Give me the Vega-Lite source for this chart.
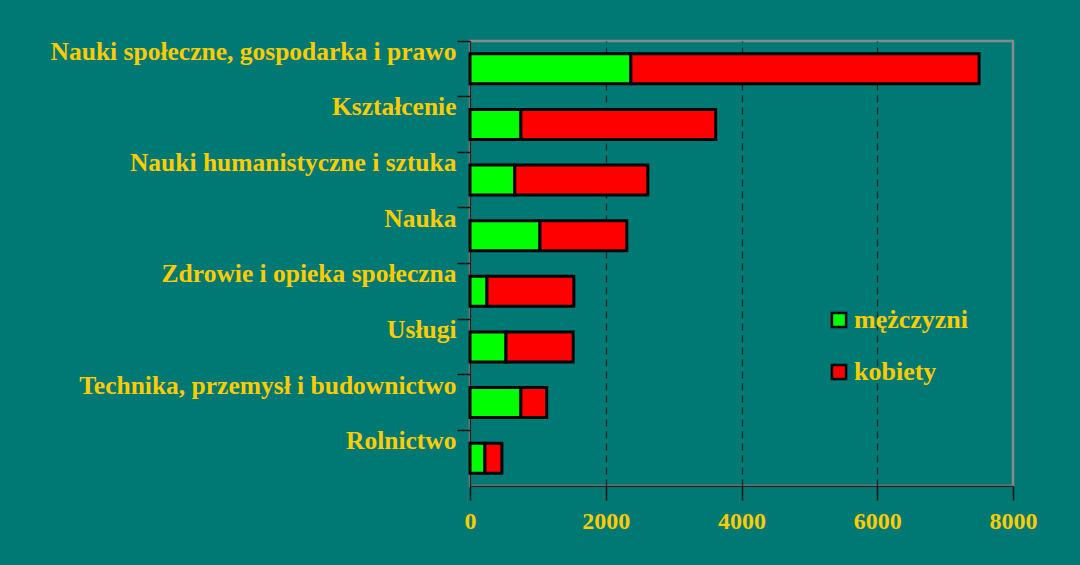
{
  "$schema": "https://vega.github.io/schema/vega-lite/v6.json",
  "width": 543,
  "height": 445,
  "autosize": {"type": "none"},
  "padding": {"left": 470, "top": 41, "right": 67, "bottom": 79},
  "background": "#007874",
  "data": {"values": [
    {"dziedzina": "Nauki społeczne, gospodarka i prawo", "plec": "mężczyzni", "ord": 1, "liczba": 2370},
    {"dziedzina": "Nauki społeczne, gospodarka i prawo", "plec": "kobiety", "ord": 2, "liczba": 5130},
    {"dziedzina": "Kształcenie", "plec": "mężczyzni", "ord": 1, "liczba": 750},
    {"dziedzina": "Kształcenie", "plec": "kobiety", "ord": 2, "liczba": 2870},
    {"dziedzina": "Nauki humanistyczne i sztuka", "plec": "mężczyzni", "ord": 1, "liczba": 660},
    {"dziedzina": "Nauki humanistyczne i sztuka", "plec": "kobiety", "ord": 2, "liczba": 1960},
    {"dziedzina": "Nauka", "plec": "mężczyzni", "ord": 1, "liczba": 1030},
    {"dziedzina": "Nauka", "plec": "kobiety", "ord": 2, "liczba": 1280},
    {"dziedzina": "Zdrowie i opieka społeczna", "plec": "mężczyzni", "ord": 1, "liczba": 250},
    {"dziedzina": "Zdrowie i opieka społeczna", "plec": "kobiety", "ord": 2, "liczba": 1280},
    {"dziedzina": "Usługi", "plec": "mężczyzni", "ord": 1, "liczba": 530},
    {"dziedzina": "Usługi", "plec": "kobiety", "ord": 2, "liczba": 990},
    {"dziedzina": "Technika, przemysł i budownictwo", "plec": "mężczyzni", "ord": 1, "liczba": 750},
    {"dziedzina": "Technika, przemysł i budownictwo", "plec": "kobiety", "ord": 2, "liczba": 380},
    {"dziedzina": "Rolnictwo", "plec": "mężczyzni", "ord": 1, "liczba": 220},
    {"dziedzina": "Rolnictwo", "plec": "kobiety", "ord": 2, "liczba": 250}
  ]},
  "mark": {"type": "bar", "stroke": "#000000", "strokeWidth": 3, "size": 30},
  "encoding": {
    "y": {
      "field": "dziedzina", "type": "nominal", "sort": null,
      "scale": {"paddingInner": 0, "paddingOuter": 0},
      "axis": {
        "title": null, "bandPosition": 0, "labelBaseline": "alphabetic", "labelOffset": -9,
        "labelFont": "Liberation Serif", "labelFontWeight": "bold", "labelFontSize": 25.5, "labelColor": "#FFCC00",
        "labelPadding": 1, "labelLimit": 500,
        "tickSize": 13, "tickColor": "#111111", "tickWidth": 1.5,
        "domainColor": "#222222", "domainWidth": 1.5, "grid": false
      }
    },
    "x": {
      "field": "liczba", "type": "quantitative", "stack": "zero",
      "scale": {"domain": [0, 8000], "nice": false},
      "axis": {
        "title": null, "values": [0, 2000, 4000, 6000, 8000], "format": "d", "labelFlush": false,
        "labelFont": "Liberation Serif", "labelFontWeight": "bold", "labelFontSize": 24, "labelColor": "#FFCC00",
        "labelPadding": 9,
        "tickSize": 14, "tickColor": "#111111", "tickWidth": 1.5,
        "domainColor": "#222222", "domainWidth": 1.5,
        "grid": true, "gridColor": "#0a2a28", "gridWidth": 1.3, "gridDash": [7, 5],
        "gridOpacity": {"condition": {"test": "datum.value == 0 || datum.value == 8000", "value": 0}, "value": 1}
      }
    },
    "color": {
      "field": "plec", "type": "nominal",
      "scale": {"domain": ["mężczyzni", "kobiety"], "range": ["#00FF00", "#FF0000"]},
      "legend": {
        "title": null, "orient": "none", "legendX": 356, "legendY": 266,
        "symbolType": "square", "symbolSize": 200, "symbolStrokeColor": "#000000", "symbolStrokeWidth": 2.5, "symbolOpacity": 1,
        "labelFont": "Liberation Serif", "labelFontWeight": "bold", "labelFontSize": 26, "labelColor": "#FFCC00",
        "labelOffset": 2, "rowPadding": 26
      }
    },
    "order": {"field": "ord", "type": "quantitative"}
  },
  "config": {
    "view": {"stroke": "#8a8a8a", "strokeWidth": 2.5}
  }
}
